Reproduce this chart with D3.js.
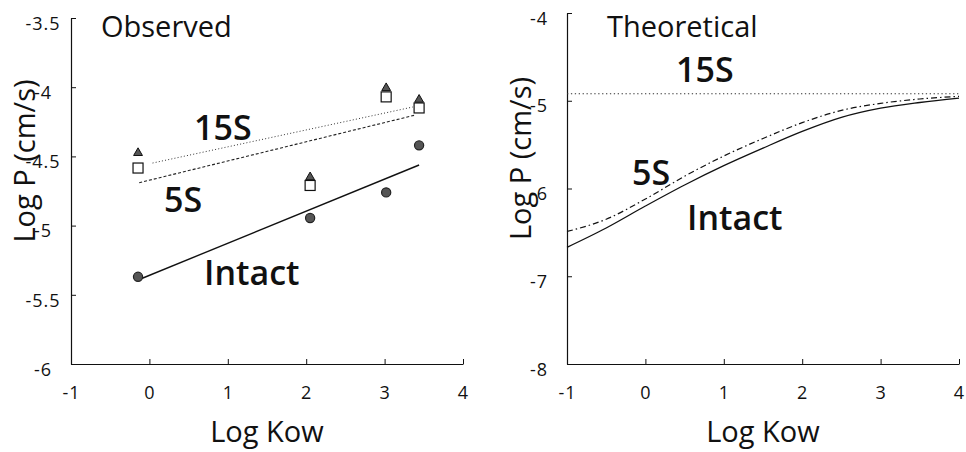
<!DOCTYPE html>
<html><head><meta charset="utf-8">
<script src="https://cdn.jsdelivr.net/npm/d3@7"></script>
<style>
body{margin:0;background:#fff;}
svg{display:block;font-family:"Open Sans","Liberation Sans",sans-serif;}
</style></head>
<body>
<svg id="chart" width="966" height="452"></svg>
<script>
// ---------- data ----------
const obsX = [-0.145, 2.05, 3.02, 3.44];
const obs15S = [-4.475, -4.65, -4.006, -4.09];
const obs5S = [-4.584, -4.71, -4.07, -4.15];
const obsIntact = [-5.37, -4.945, -4.76, -4.42];
// regression line end points (observed)
const fit15S = [[0.04, -4.548], [3.36, -4.143]];
const fit5S = [[-0.13, -4.69], [3.40, -4.20]];
const fitIntact = [[-0.145, -5.393], [3.44, -4.562]];
// theoretical curves
const theoX = [-1, -0.5, 0, 0.5, 1, 1.5, 2, 2.5, 3, 3.5, 4];
const theoIntact = [-6.67, -6.45, -6.20, -5.96, -5.74, -5.54, -5.35, -5.19, -5.085, -5.02, -4.97];
const theo5S = [-6.49, -6.35, -6.12, -5.86, -5.63, -5.43, -5.25, -5.11, -5.03, -4.98, -4.95];
const theo15S = [-4.92, -4.92];
const theo15SX = [-1, 4];
// ticks
const xTicks = [-1, 0, 1, 2, 3, 4];
const yTicksObs = [-6, -5.5, -5, -4.5, -4, -3.5];
const yTicksTheo = [-8, -7, -6, -5, -4];

const svg = d3.select("#chart");

function panel(xs, ys, yTicks, title, titleX) {
  const g = svg.append("g");
  const ax = g.append("g").attr("transform", `translate(0,${ys.range()[0]})`)
    .call(d3.axisBottom(xs).tickValues(xTicks).tickSize(-5).tickSizeOuter(0).tickFormat(d => String(d)));
  ax.selectAll("text").attr("y", 22).attr("dy", "0.71em").attr("font-size", 18).attr("fill", "#111")
    .style("letter-spacing", "1px").attr("font-family", "Open Sans");
  const ay = g.append("g").attr("transform", `translate(${xs.range()[0]},0)`)
    .call(d3.axisLeft(ys).tickValues(yTicks).tickSize(-5).tickSizeOuter(0).tickFormat(d => String(d)));
  ay.selectAll("text").attr("x", -28).attr("text-anchor", "middle").attr("dy", "0.9em").attr("y", -5)
    .attr("font-size", 18).attr("fill", "#111").style("letter-spacing", "1px").attr("font-family", "Open Sans");
  g.selectAll(".domain").attr("stroke", "#111").attr("stroke-width", 1.2);
  g.selectAll(".tick line").attr("stroke", "#111").attr("stroke-width", 1);
  const x0 = xs.range()[0], x1 = xs.range()[1];
  // axis titles
  g.append("text").attr("x", (x0 + x1) / 2).attr("y", 442).attr("text-anchor", "middle")
    .attr("font-size", 29).attr("fill", "#111").text("Log Kow");
  const ymid = (ys.range()[0] + ys.range()[1]) / 2 - 30;
  g.append("text").attr("transform", `translate(${x0 - 36},${ymid}) rotate(-90)`)
    .attr("text-anchor", "middle").attr("font-size", 29).attr("fill", "#111").text("Log P (cm/s)");
  g.append("text").attr("x", titleX).attr("y", 37).attr("font-size", 29).attr("fill", "#111").text(title);
  return g;
}

// ---------- left: Observed ----------
const xL = d3.scaleLinear().domain([-1, 4]).range([71, 463]);
const yL = d3.scaleLinear().domain([-6, -3.5]).range([364, 18]);
const gL = panel(xL, yL, yTicksObs, "Observed", 101);

const line2 = d3.line();
gL.append("path").attr("d", line2(fit15S.map(d => [xL(d[0]), yL(d[1])])))
  .attr("fill", "none").attr("stroke", "#333").attr("stroke-width", 1).attr("stroke-dasharray", "1,2.2");
gL.append("path").attr("d", line2(fit5S.map(d => [xL(d[0]), yL(d[1])])))
  .attr("fill", "none").attr("stroke", "#222").attr("stroke-width", 1.1).attr("stroke-dasharray", "3,2");
gL.append("path").attr("d", line2(fitIntact.map(d => [xL(d[0]), yL(d[1])])))
  .attr("fill", "none").attr("stroke", "#111").attr("stroke-width", 1.4);

// markers
gL.selectAll(".sq").data(obsX).join("rect")
  .attr("x", (d) => xL(d) - 5).attr("y", (d, i) => yL(obs5S[i]) - 5).attr("width", 10).attr("height", 10)
  .attr("fill", "#fff").attr("stroke", "#111").attr("stroke-width", 1.2);
gL.selectAll(".tri").data(obsX).join("path")
  .attr("transform", (d, i) => `translate(${xL(d)},${yL(obs15S[i])})`)
  .attr("d", d3.symbol(d3.symbolTriangle, 34)())
  .attr("fill", "#555").attr("stroke", "#111").attr("stroke-width", 1);
gL.selectAll(".ci").data(obsX).join("circle")
  .attr("cx", d => xL(d)).attr("cy", (d, i) => yL(obsIntact[i])).attr("r", 4.6)
  .attr("fill", "#555").attr("stroke", "#222").attr("stroke-width", 1.2);

const lab = (g, x, y, t) => g.append("text").attr("x", x).attr("y", y).attr("font-size", 34)
  .attr("font-weight", 600).attr("fill", "#111").text(t);
lab(gL, 194, 140, "15S");
lab(gL, 164, 212, "5S");
lab(gL, 204, 285, "Intact");

// ---------- right: Theoretical ----------
const xR = d3.scaleLinear().domain([-1, 4]).range([567, 959]);
const yR = d3.scaleLinear().domain([-8, -4]).range([364, 13]);
const gR = panel(xR, yR, yTicksTheo, "Theoretical", 607);

const lineR = d3.line().x(d => xR(d[0])).y(d => yR(d[1])).curve(d3.curveMonotoneX);
gR.append("path").attr("d", lineR(theo15SX.map((x, i) => [x, theo15S[i]])))
  .attr("fill", "none").attr("stroke", "#333").attr("stroke-width", 1.1).attr("stroke-dasharray", "1.3,2.6");
gR.append("path").attr("d", lineR(theoX.map((x, i) => [x, theo5S[i]])))
  .attr("fill", "none").attr("stroke", "#111").attr("stroke-width", 1.2).attr("stroke-dasharray", "6,3,1.5,3");
gR.append("path").attr("d", lineR(theoX.map((x, i) => [x, theoIntact[i]])))
  .attr("fill", "none").attr("stroke", "#111").attr("stroke-width", 1.3);

lab(gR, 676, 82, "15S");
lab(gR, 632, 185, "5S");
lab(gR, 687, 230, "Intact");
</script>
</body></html>
